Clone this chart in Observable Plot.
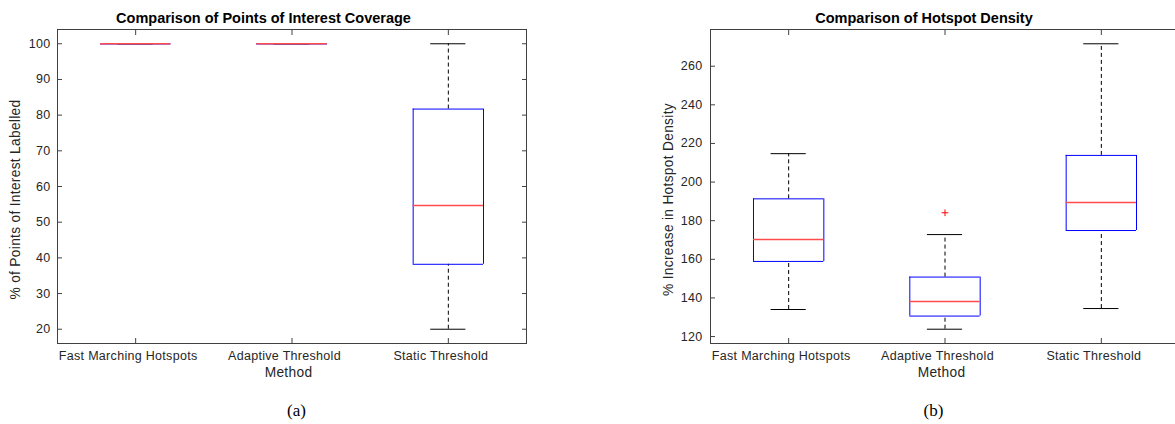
<!DOCTYPE html>
<html>
<head>
<meta charset="utf-8">
<script src="https://cdn.jsdelivr.net/npm/d3@7"></script>
<script src="https://cdn.jsdelivr.net/npm/@observablehq/plot@0.6"></script>
<style>
html, body { margin: 0; padding: 0; background: #fff; overflow: hidden; width: 1175px; height: 424px; }
.panel { position: absolute; top: 0; height: 424px; }
.title { position: absolute; top: 10px; font: bold 14.5px "Liberation Sans", Arial, sans-serif; color: #000; white-space: nowrap; line-height: 17px; transform: translateX(-50%); }
.caption { position: absolute; top: 401px; font: 17px "Liberation Serif", "Times New Roman", serif; color: #000; white-space: nowrap; line-height: 20px; transform: translateX(-50%); }
.chart { position: absolute; top: 26px; left: 0; }
</style>
</head>
<body>
<div id="a" class="panel" style="left:0;width:560px"></div>
<div id="b" class="panel" style="left:600px;width:600px"></div>
<script>
// ---------- data ----------
const methods = ["Fast Marching Hotspots", "Adaptive Threshold", "Static Threshold"];

// (a) Points of interest coverage (%)
const coverageMin    = [100, 100, 20];
const coverageQ1     = [100, 100, 38.2];
const coverageMedian = [100, 100, 54.7];
const coverageQ3     = [100, 100, 81.7];
const coverageMax    = [100, 100, 100];
const coverageTicks  = [20, 30, 40, 50, 60, 70, 80, 90, 100];
const coverageDomain = [16, 104];

// (b) Increase in hotspot density (%)
const densityMin    = [134.0, 123.8, 134.5];
const densityQ1     = [158.9, 130.6, 174.9];
const densityMedian = [170.2, 138.2, 189.4];
const densityQ3     = [191.3, 150.8, 213.8];
const densityMax    = [214.7, 172.8, 271.6];
const densityOutlierMethod = ["Adaptive Threshold"];
const densityOutlierValue  = [184.1];
const densityTicks  = [120, 140, 160, 180, 200, 220, 240, 260];
const densityDomain = [116.4, 279];

// ---------- drawing ----------
const axisColor = "#404040";
const textColor = "#262626";
const boxHalf = 0.225;
const capHalf = 0.1125;

function makeRows(mins, q1s, meds, q3s, maxs) {
  return methods.map((m, i) => ({method: m, pos: i + 1, min: mins[i], q1: q1s[i], med: meds[i], q3: q3s[i], max: maxs[i]}));
}

function drawPanel({el, width, marginLeft, marginRight, domain, ticks, rows, outliers, yLabel, labelGap, title, titleX, caption, captionX}) {
  const height = 360;
  const chart = Plot.plot({
    width, height,
    marginTop: 3, marginBottom: 43, marginLeft, marginRight,
    x: {type: "linear", domain: [0.5, 3.5], label: null},
    y: {domain, label: null},
    style: {fontFamily: '"Liberation Sans", Arial, sans-serif', fontSize: "12.5px", color: textColor, background: "transparent", letterSpacing: "0.3px", overflow: "visible"},
    marks: [
      // whiskers
      Plot.ruleX(rows, {x: "pos", y1: "q3", y2: "max", stroke: "#000", strokeWidth: 1, strokeDasharray: "4,3"}),
      Plot.ruleX(rows, {x: "pos", y1: "min", y2: "q1", stroke: "#000", strokeWidth: 1, strokeDasharray: "4,3"}),
      // caps
      Plot.ruleY(rows, {y: "max", x1: d => d.pos - capHalf, x2: d => d.pos + capHalf, stroke: "#000", strokeWidth: 1}),
      Plot.ruleY(rows, {y: "min", x1: d => d.pos - capHalf, x2: d => d.pos + capHalf, stroke: "#000", strokeWidth: 1}),
      // boxes (edges as rules so collapsed boxes still show)
      Plot.ruleY(rows, {y: "q3", x1: d => d.pos - boxHalf, x2: d => d.pos + boxHalf, stroke: "#0000ff", strokeWidth: 1}),
      Plot.ruleY(rows, {y: "q1", x1: d => d.pos - boxHalf, x2: d => d.pos + boxHalf, stroke: "#0000ff", strokeWidth: 1}),
      Plot.ruleX(rows, {x: d => d.pos - boxHalf, y1: "q1", y2: "q3", stroke: "#0000ff", strokeWidth: 1}),
      Plot.ruleX(rows, {x: d => d.pos + boxHalf, y1: "q1", y2: "q3", stroke: "#0000ff", strokeWidth: 1}),
      // medians
      Plot.ruleY(rows, {y: "med", x1: d => d.pos - boxHalf, x2: d => d.pos + boxHalf, stroke: "#ff4d4d", strokeWidth: 1.5}),
      // outliers
      Plot.dot(outliers, {x: "pos", y: "value", symbol: "plus", r: 2.3, stroke: "#ff0000", strokeWidth: 1}),
      // frame
      Plot.frame({stroke: axisColor}),
      // inward ticks
      Plot.axisY({anchor: "left", ticks, tickSize: 5, dx: 5, tickFormat: () => "", label: null, stroke: axisColor}),
      Plot.axisY({anchor: "right", ticks, tickSize: 5, dx: -5, tickFormat: () => "", label: null, stroke: axisColor}),
      Plot.axisX({anchor: "bottom", ticks: [1, 2, 3], tickSize: 5, dy: -5, tickFormat: () => "", label: null, stroke: axisColor}),
      Plot.axisX({anchor: "top", ticks: [1, 2, 3], tickSize: 5, dy: 5, tickFormat: () => "", label: null, stroke: axisColor}),
      // tick labels
      Plot.axisY({anchor: "left", ticks, tickSize: 0, tickPadding: labelGap, tickFormat: d => String(d), label: null, fill: textColor}),
      Plot.axisX({anchor: "bottom", ticks: [1, 2, 3], tickSize: 0, tickPadding: 8, dx: -7.5, tickFormat: d => methods[d - 1], label: null, fill: textColor}),
      // axis titles
      Plot.text([yLabel], {text: d => d, frameAnchor: "left", textAnchor: "middle", dx: -41.5, dy: 13, rotate: -90, fontSize: 13.75, fill: textColor}),
      Plot.text(["Method"], {text: d => d, frameAnchor: "bottom", textAnchor: "middle", lineAnchor: "top", dy: 23.5, dx: -3.5, fontSize: 13.75, fill: textColor})
    ]
  });
  chart.classList.add("chart");
  el.appendChild(chart);
  const t = document.createElement("div");
  t.className = "title"; t.style.left = titleX + "px"; t.textContent = title;
  el.appendChild(t);
  const c = document.createElement("div");
  c.className = "caption"; c.style.left = captionX + "px"; c.textContent = caption;
  el.appendChild(c);
}

drawPanel({
  el: document.getElementById("a"),
  width: 560, marginLeft: 57, marginRight: 34,
  domain: coverageDomain, ticks: coverageTicks,
  rows: makeRows(coverageMin, coverageQ1, coverageMedian, coverageQ3, coverageMax),
  outliers: [],
  yLabel: "% of Points of Interest Labelled", labelGap: 7,
  title: "Comparison of Points of Interest Coverage", titleX: 263.5,
  caption: "(a)", captionX: 296.5
});

drawPanel({
  el: document.getElementById("b"),
  width: 600, marginLeft: 110, marginRight: 21,
  domain: densityDomain, ticks: densityTicks,
  rows: makeRows(densityMin, densityQ1, densityMedian, densityQ3, densityMax),
  outliers: densityOutlierMethod.map((m, i) => ({pos: methods.indexOf(m) + 1, value: densityOutlierValue[i]})),
  yLabel: "% Increase in Hotspot Density", labelGap: 8,
  title: "Comparison of Hotspot Density", titleX: 324,
  caption: "(b)", captionX: 333.5
});
</script>
</body>
</html>
